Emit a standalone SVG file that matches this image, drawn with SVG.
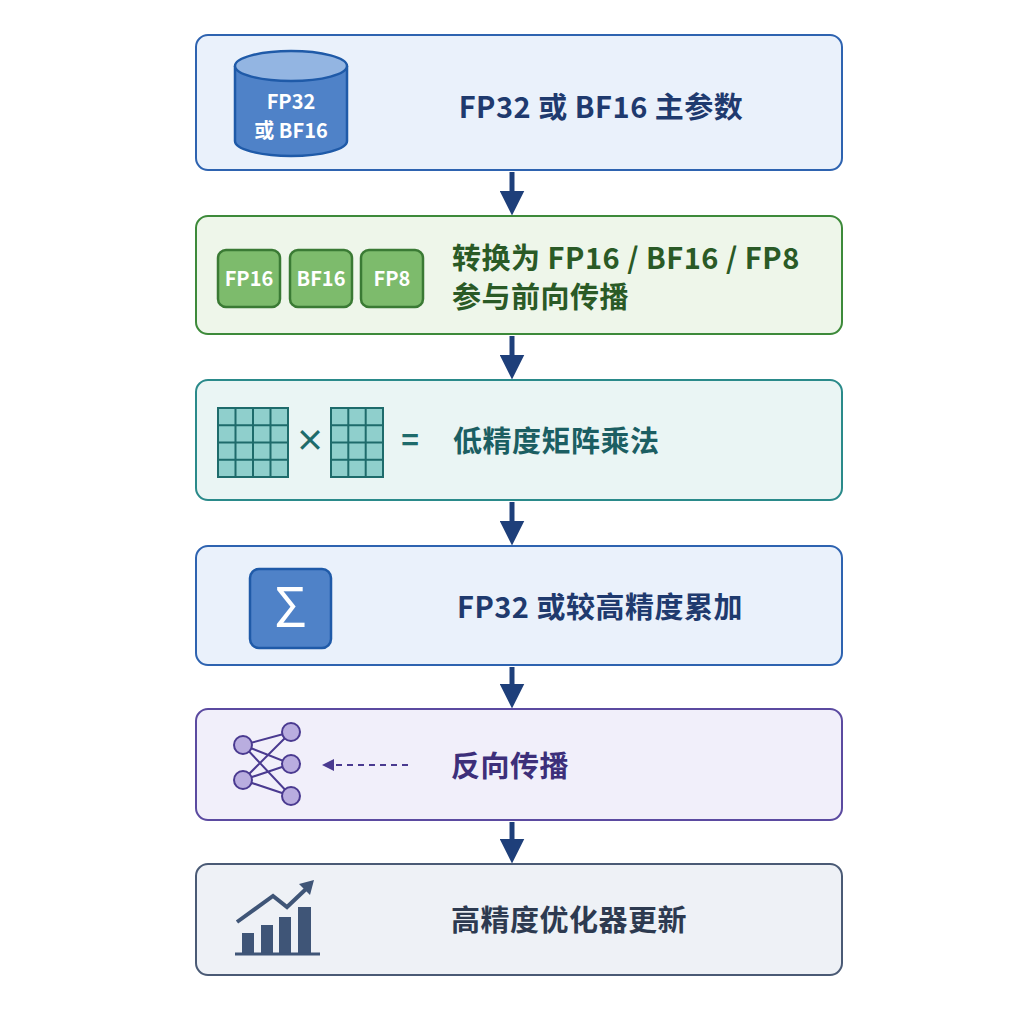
<svg xmlns="http://www.w3.org/2000/svg" width="1024" height="1024" viewBox="0 0 1024 1024">
<defs>
<style>
text{font-family:"Noto Sans CJK SC","Liberation Sans",sans-serif;font-weight:700}
.t{font-size:29px;letter-spacing:0.5px}
.box{stroke-width:2}
.conn{stroke:#1e3f7a;stroke-width:5;fill:none}
.chip{fill:#7dbb6c;stroke:#3a7a34;stroke-width:2.5}
.ct{fill:#fff;font-size:20px;text-anchor:middle}
.cell{fill:#8fcfcc;stroke:#1e6b6b;stroke-width:2}
</style>
<marker id="ah" viewBox="0 0 10 10" refX="5" refY="5" markerWidth="5" markerHeight="5" orient="auto"><path d="M0,0L10,5L0,10z" fill="#1e3f7a"/></marker>
</defs>
<rect width="1024" height="1024" fill="#fff"/>
<g id="connectors">
<line class="conn" x1="512" y1="172" x2="512" y2="203" marker-end="url(#ah)"/>
<line class="conn" x1="512" y1="336" x2="512" y2="367" marker-end="url(#ah)"/>
<line class="conn" x1="512" y1="502" x2="512" y2="533" marker-end="url(#ah)"/>
<line class="conn" x1="512" y1="667" x2="512" y2="696" marker-end="url(#ah)"/>
<line class="conn" x1="512" y1="822" x2="512" y2="851" marker-end="url(#ah)"/>
</g>
<g id="n1">
<rect class="box" x="196" y="35" width="646" height="135" rx="12" fill="#eaf1fb" stroke="#2e63b0"/>
<path d="M235,66 V141 A56,15 0 0 0 347,141 V66" fill="#4f82c8" stroke="#1f5aa8" stroke-width="2.5"/>
<ellipse cx="291" cy="66" rx="56" ry="15" fill="#93b5e2" stroke="#1f5aa8" stroke-width="2.5"/>
<text x="291" y="109" class="ct" font-size="21">FP32</text>
<text x="291" y="138" class="ct" font-size="21">或 BF16</text>
<text x="601" y="118" class="t" fill="#1f3a6e" text-anchor="middle">FP32 或 BF16 主参数</text>
</g>
<g id="n2">
<rect class="box" x="196" y="216" width="646" height="118" rx="12" fill="#eef6ea" stroke="#3d8a3a"/>
<rect class="chip" x="218" y="250" width="62" height="57" rx="8"/>
<rect class="chip" x="290" y="250" width="62" height="57" rx="8"/>
<rect class="chip" x="361" y="250" width="62" height="57" rx="8"/>
<text x="249" y="286" class="ct">FP16</text>
<text x="321" y="286" class="ct">BF16</text>
<text x="392" y="286" class="ct">FP8</text>
<text x="452" y="269" class="t" fill="#2a5a26">转换为 FP16 / BF16 / FP8</text>
<text x="452" y="308" class="t" fill="#2a5a26">参与前向传播</text>
</g>
<g id="n3">
<rect class="box" x="196" y="380" width="646" height="120" rx="12" fill="#eaf5f4" stroke="#2a8a8a"/>
<rect class="cell" x="218" y="408" width="70" height="69"/>
<path d="M235.5,408V477M253,408V477M270.5,408V477M218,425.25H288M218,442.5H288M218,459.75H288" stroke="#1e6b6b" stroke-width="2"/>
<rect class="cell" x="331" y="408" width="52" height="69"/>
<path d="M348.3,408V477M365.7,408V477M331,425.25H383M331,442.5H383M331,459.75H383" stroke="#1e6b6b" stroke-width="2"/>
<text x="310" y="451" font-size="30" fill="#1e6b6b" text-anchor="middle">×</text>
<text x="410" y="451" font-size="30" fill="#1e6b6b" text-anchor="middle">=</text>
<text x="453" y="452" class="t" fill="#1b5e62">低精度矩阵乘法</text>
</g>
<g id="n4">
<rect class="box" x="196" y="546" width="646" height="119" rx="12" fill="#eaf1fb" stroke="#2e63b0"/>
<rect x="250" y="569" width="81" height="79" rx="9" fill="#4f82c8" stroke="#1f5aa8" stroke-width="2.5"/>
<text x="290.5" y="627" font-size="54" fill="#fff" text-anchor="middle" style="font-weight:400">Σ</text>
<text x="600" y="618" class="t" fill="#1f3a6e" text-anchor="middle">FP32 或较高精度累加</text>
</g>
<g id="n5">
<rect class="box" x="196" y="709" width="646" height="111" rx="12" fill="#f1effa" stroke="#5b4aa0"/>
<g stroke="#4a3a90" stroke-width="2">
<path d="M243,745L291,732M243,745L291,764M243,745L291,796M243,780L291,732M243,780L291,764M243,780L291,796" fill="none"/>
<g fill="#b9addf"><circle cx="243" cy="745" r="9"/><circle cx="243" cy="780" r="9"/><circle cx="291" cy="732" r="9"/><circle cx="291" cy="764" r="9"/><circle cx="291" cy="796" r="9"/></g>
</g>
<line x1="408" y1="765" x2="333" y2="765" stroke="#4a3a90" stroke-width="2" stroke-dasharray="6,5"/>
<path d="M322,765L334,759V771z" fill="#4a3a90"/>
<text x="451" y="777" class="t" fill="#3d2f7a">反向传播</text>
</g>
<g id="n6">
<rect class="box" x="196" y="864" width="646" height="111" rx="12" fill="#eef1f6" stroke="#4a5a75"/>
<g fill="#3f5577">
<rect x="242" y="933" width="12" height="20"/><rect x="261" y="925" width="12" height="28"/><rect x="279" y="917" width="12" height="36"/><rect x="298" y="907" width="13" height="46"/>
</g>
<line x1="235" y1="954" x2="320" y2="954" stroke="#3f5577" stroke-width="3"/>
<polyline points="237,922 273,896 287,907 306,889" fill="none" stroke="#3f5577" stroke-width="4"/>
<path d="M314,880L299,884L310,895z" fill="#3f5577"/>
<text x="451" y="931" class="t" fill="#2d3a50">高精度优化器更新</text>
</g>
</svg>
